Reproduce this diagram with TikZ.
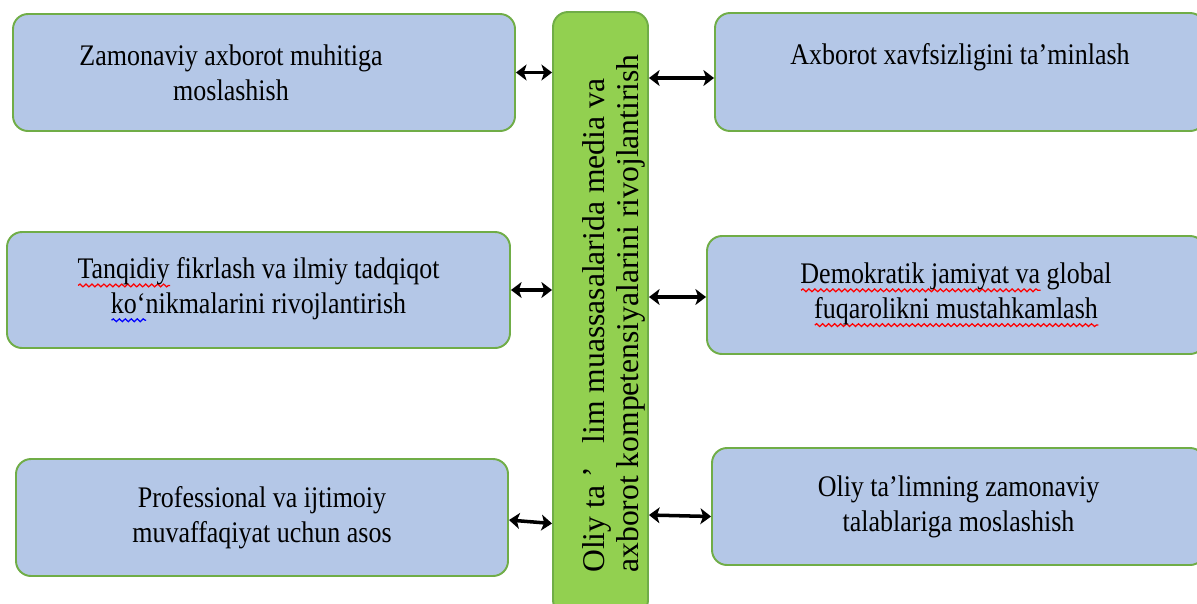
\documentclass[tikz,border=0pt]{standalone}
\usepackage{fontspec}
\usetikzlibrary{arrows.meta,decorations.pathmorphing}
\setmainfont{Liberation Serif}
\newfontfamily\boxfont{Liberation Serif}[FakeStretch=0.87]
\definecolor{boxblue}{HTML}{B4C7E7}
\definecolor{boxgreen}{HTML}{70AD47}
\definecolor{hubgreen}{HTML}{92D050}
\newlength{\wavelen}
\newcommand{\spellwave}[2]{\settowidth{\wavelen}{#2}\rlap{\tikz[baseline=0pt]\draw[#1, sharp corners, line width=0.7pt, decorate,
  decoration={snake, amplitude=0.8pt, segment length=3.4pt}] (0,-3.8pt) -- (\wavelen,-3.8pt);}#2}
\tikzset{
  goal/.style={draw=boxgreen, line width=1.1pt, fill=boxblue, rounded corners=0.3cm,
    inner sep=0pt, align=center, font=\boxfont\fontsize{17}{19.8}\selectfont},
  goaltext/.style={align=center, font=\boxfont\fontsize{17}{19.8}\selectfont},
  hub/.style={draw=boxgreen, line width=1.1pt, fill=hubgreen, rounded corners=0.3cm, inner sep=0pt},
  hubtext/.style={xshift=0.27cm, rotate=90, align=left, font=\fontsize{18}{19}\selectfont},
  link/.style={{Stealth[length=6pt,width=9pt,inset=1.5pt]}-{Stealth[length=6pt,width=9pt,inset=1.5pt]}, line width=2pt},
}

\begin{document}
\begin{tikzpicture}
      \useasboundingbox (0,0) rectangle (23.94,-12.06);
      \node[hub, minimum width=1.9cm, minimum height=12.06cm,
        label={[hubtext]center:Oliy ta ’~~~lim muassasalarida media va\\axborot kompetensiyalarini rivojlantirish}] (0) at (12.01,-6.27) {};

      \node[goal, minimum width=10.04cm, minimum height=2.34cm,
        label={[goaltext, xshift=-0.66cm]center:Zamonaviy axborot muhitiga\\moslashish}] (1) at (5.28,-1.45) {};
      \node[goal, minimum width=10.06cm, minimum height=2.32cm] (2) at (5.17,-5.8)
        {\spellwave{red}{Tanqidiy} fikrlash va ilmiy tadqiqot\\\spellwave{blue}{ko‘}nikmalarini rivojlantirish};
      \node[goal, minimum width=9.84cm, minimum height=2.34cm] (3) at (5.24,-10.35)
        {Professional va ijtimoiy\\muvaffaqiyat uchun asos};

      \node[goal, minimum width=9.8cm, minimum height=2.36cm,
        label={[goaltext, yshift=0.3cm]center:Axborot xavfsizligini ta’minlash}] (4) at (19.2,-1.44) {};
      \node[goal, minimum width=9.96cm, minimum height=2.36cm] (5) at (19.12,-5.9)
        {\spellwave{red}{Demokratik jamiyat va} global\\\spellwave{red}{fuqarolikni mustahkamlash}};
      \node[goal, minimum width=9.86cm, minimum height=2.34cm] (6) at (19.17,-10.13)
        {Oliy ta’limning zamonaviy\\talablariga moslashish};

      \draw[link] (1.east) -- (1.east -| 0.west);
      \draw[link] (2.east) -- (2.east -| 0.west);
      \draw[link] ([yshift=-0.05cm]3.east) -- ([yshift=-0.12cm]3.east -| 0.west);
      \draw[link] ([yshift=-0.12cm]0.east |- 4.west) -- ([yshift=-0.12cm]4.west);
      \draw[link] ([yshift=-0.04cm]0.east |- 5.west) -- ([yshift=-0.04cm]5.west);
      \draw[link] ([yshift=-0.17cm]0.east |- 6.west) -- ([yshift=-0.2cm]6.west);
    \end{tikzpicture}
\end{document}
